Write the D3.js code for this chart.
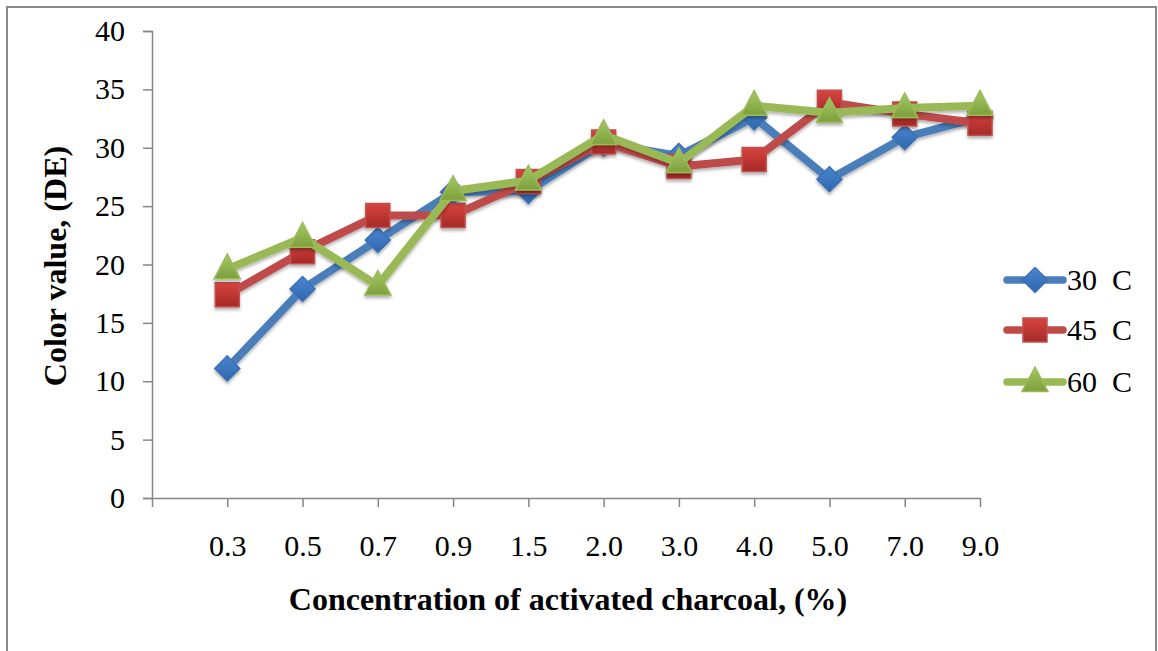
<!DOCTYPE html>
<html>
<head>
<meta charset="utf-8">
<script src="https://cdn.jsdelivr.net/npm/d3@7/dist/d3.min.js"></script>
<style>
  html, body { margin: 0; padding: 0; background: #fff; }
  svg { display: block; }
  text { font-family: "Liberation Serif", "Times New Roman", serif; fill: #000; }
</style>
</head>
<body>
<svg id="chart" width="1158" height="651"></svg>
<script>
// Activated charcoal concentrations (%)
const categories = ["0.3", "0.5", "0.7", "0.9", "1.5", "2.0", "3.0", "4.0", "5.0", "7.0", "9.0"];

// Colour value (DE) at each temperature
const seriesNames = ["30 C", "45 C", "60 C"];
const values30 = [11.1, 17.9, 22.1, 26.2, 26.3, 30.4, 29.3, 32.6, 27.3, 30.9, 32.6];
const values45 = [17.4, 21.1, 24.2, 24.2, 27.1, 30.5, 28.4, 29.0, 33.9, 32.9, 32.1];
const values60 = [19.6, 22.3, 18.2, 26.3, 27.2, 31.1, 28.7, 33.6, 33.0, 33.4, 33.6];

const yTicks = [0, 5, 10, 15, 20, 25, 30, 35, 40];

const FONT = "'Liberation Serif', 'Times New Roman', serif";

const svg = d3.select("#chart");
const defs = svg.append("defs");

// soft drop shadow under lines and markers
const shadow = defs.append("filter").attr("id", "shadow")
  .attr("x", "-20%").attr("y", "-20%").attr("width", "140%").attr("height", "160%");
shadow.append("feDropShadow").attr("dx", 0).attr("dy", 2.5)
  .attr("stdDeviation", 1.8).attr("flood-color", "#000").attr("flood-opacity", 0.3);

function gradient(id, top, bottom) {
  const g = defs.append("linearGradient").attr("id", id)
    .attr("x1", 0).attr("y1", 0).attr("x2", 0).attr("y2", 1);
  g.append("stop").attr("offset", "0%").attr("stop-color", top);
  g.append("stop").attr("offset", "100%").attr("stop-color", bottom);
}
gradient("gBlue", "#4a86d0", "#2f66ae");
gradient("gRed", "#d8433f", "#a52a27");
gradient("gGreen", "#a4c866", "#7da03c");

// outer frame
svg.append("rect").attr("x", 7).attr("y", 7).attr("width", 1149).attr("height", 660)
  .attr("fill", "none").attr("stroke", "#8a8a8a").attr("stroke-width", 2);

const plot = { left: 152, right: 980, top: 31, bottom: 498 };

// category slots: one empty slot before the first category
const x = d3.scalePoint().domain(["", ...categories])
  .range([plot.left, plot.right]);
const y = d3.scaleLinear().domain([0, 40]).range([plot.bottom, plot.top]);

// y axis
const yAxis = svg.append("g").attr("transform", `translate(${plot.left},0)`)
  .call(d3.axisLeft(y).tickValues(yTicks).tickSize(9).tickPadding(18).tickFormat(d3.format("d")))
  .attr("font-family", FONT).attr("font-size", 30);
yAxis.select(".domain").attr("stroke", "#868686").attr("stroke-width", 1.5);
yAxis.selectAll(".tick line").attr("stroke", "#868686").attr("stroke-width", 1.5);

// x axis
const xAxis = svg.append("g").attr("transform", `translate(0,${plot.bottom})`)
  .call(d3.axisBottom(x).tickSize(9).tickPadding(28).tickSizeOuter(0))
  .attr("font-family", FONT).attr("font-size", 30);
xAxis.select(".domain").attr("stroke", "#868686").attr("stroke-width", 1.5);
xAxis.selectAll(".tick line").attr("stroke", "#868686").attr("stroke-width", 1.5);

// axis titles
svg.append("text").attr("x", 568).attr("y", 610).attr("text-anchor", "middle")
  .style("font-size", "32px").style("font-weight", "bold")
  .text("Concentration of activated charcoal, (%)");
svg.append("text").attr("transform", "translate(66,266) rotate(-90)").attr("text-anchor", "middle")
  .style("font-size", "32px").style("font-weight", "bold")
  .text("Color value, (DE)");

const series = [
  { name: seriesNames[0], values: values30, line: "#4a7ebb", fill: "url(#gBlue)", stroke: "#3a70b5", shape: "diamond" },
  { name: seriesNames[1], values: values45, line: "#be4b48", fill: "url(#gRed)", stroke: "#c0504d", shape: "square" },
  { name: seriesNames[2], values: values60, line: "#98b954", fill: "url(#gGreen)", stroke: "#9bbb59", shape: "triangle" }
];

function markerPath(shape) {
  if (shape === "diamond") return "M0,-12.5L12.5,0L0,12.5L-12.5,0Z";
  if (shape === "square") return "M-12,-12H12V12H-12Z";
  return "M0,-15L13,9.5H-13Z";
}

const line = d3.line().x((d, i) => x(categories[i])).y(d => y(d));

series.forEach(s => {
  const g = svg.append("g").attr("filter", "url(#shadow)");
  g.append("path").datum(s.values).attr("d", line)
    .attr("fill", "none").attr("stroke", s.line).attr("stroke-width", 8)
    .attr("stroke-linejoin", "round");
  g.selectAll("path.m").data(s.values).join("path").attr("class", "m")
    .attr("transform", (d, i) => `translate(${x(categories[i])},${y(d)})`)
    .attr("d", markerPath(s.shape))
    .attr("fill", s.fill).attr("stroke", s.stroke).attr("stroke-width", 1.5);
});

// legend
const legendY = [280, 330, 382];
series.forEach((s, i) => {
  const g = svg.append("g").attr("transform", `translate(1007,${legendY[i]})`);
  g.append("line").attr("x1", 0).attr("x2", 56).attr("y1", 0).attr("y2", 0)
    .attr("stroke", s.line).attr("stroke-width", 7.5).attr("stroke-linecap", "round");
  g.append("path").attr("transform", "translate(28,0)").attr("d", markerPath(s.shape))
    .attr("fill", s.fill).attr("stroke", s.stroke).attr("stroke-width", 1.5);
  g.append("text").attr("x", 60).attr("y", 10).style("font-size", "30px")
    .style("white-space", "pre").text(s.name.replace(" ", "  "));
});
</script>
</body>
</html>
